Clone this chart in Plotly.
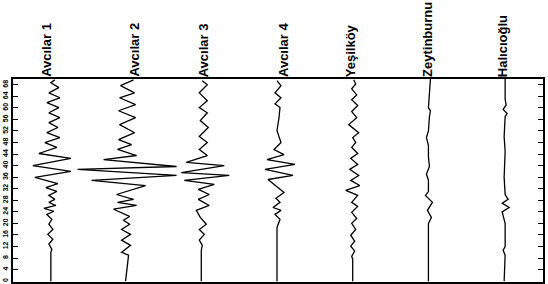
import plotly.graph_objects as go

stations = ["Avcılar 1", "Avcılar 2", "Avcılar 3", "Avcılar 4", "Yeşilköy", "Zeytinburnu", "Halıcıoğlu"]
y_ticks = list(range(0, 69, 4))

# depth (m) and wiggle amplitude for each station
avc1_depth = [0, 10.0, 11.0, 12.8, 14.5, 16.2, 17.9, 19.7, 21.4, 23.1, 24.2, 25.2, 26.2, 27.3, 28.3, 29.7, 31.1, 32.4, 33.8,
              35.9, 38.0, 40.0, 42.5, 44.2, 46.3, 48.0, 49.7, 51.4, 53.2, 54.9, 56.6, 58.3, 60.1, 61.8, 63.5, 65.2, 67.0, 68.7, 69.7]
avc1_amp = [0, 0, 1, -2, 2, -3, 2, -2, 1, -4, 3, -7, 5, -2, 4, -2, 6, -5, 7,
            -16, 20, -18, 20, -12, 6, -6, 9, -4, 7, -2, 9, -2, 8, -4, 9, -2, 8, 0, 4]

avc2_depth = [0, 9.0, 10.0, 12.4, 14.2, 16.2, 17.9, 19.7, 21.1, 22.4, 24.9, 26.2, 27.3, 28.3, 30.0, 33.1, 34.9, 36.6, 38.7,
              39.7, 42.1, 43.5, 45.6, 47.3, 49.0, 51.4, 54.2, 56.6, 59.0, 61.1, 63.5, 65.2, 67.7, 69.7]
avc2_amp = [-1, 2, -5, 4, -5, 4, -5, 3, -3, 3, -13, 10, -9, 7, -10, 19, -35, 50, -49,
            50, -23, 10, -9, 5, -8, 8, -7, 9, -8, 9, -7, 8, -6, 7]

avc3_depth = [0, 10.7, 12.4, 14.2, 16.2, 17.9, 19.7, 22.1, 24.5, 26.2, 28.3, 30.0, 31.8, 33.5, 34.9, 36.6, 37.6, 40.0,
              41.1, 43.5, 45.6, 48.0, 50.1, 53.2, 55.6, 58.3, 60.1, 62.5, 65.2, 68.0, 69.4]
avc3_amp = [-1, -1, 0, -3, 2, -3, 4, -2, -6, 7, -4, 7, -4, 12, -18, 27, -21, 22,
            -16, 5, -3, 5, -3, 6, -2, 5, -3, 5, -3, 5, 0]

avc4_depth = [0, 18.6, 21.4, 23.1, 24.5, 25.5, 27.3, 28.7, 30.7, 35.2, 36.6, 38.7, 40.4, 42.1, 43.8, 45.6, 48.0, 52.1,
              56.6, 60.1, 61.4, 63.5, 65.2, 67.7, 69.4]
avc4_amp = [-1, -1, 2, -3, 3, -5, 2, -2, 6, -10, 15, -13, 17, -11, 6, -4, 3, -1,
            1, 2, -3, 3, -3, 3, -1]

yes_depth = [0, 7.6, 8.6, 10.4, 12.1, 13.8, 15.9, 17.9, 20.0, 21.7, 23.8, 25.9, 27.3, 29.7, 31.4, 33.1, 34.9, 36.6, 38.7,
             40.4, 42.5, 44.2, 46.3, 48.0, 49.7, 51.4, 54.2, 56.6, 58.7, 60.8, 62.8, 64.5, 66.6, 68.3, 69.7]
yes_amp = [-1, -1, -2, 1, -3, 1, -3, 2, -2, 3, -2, 4, -2, 4, -8, 6, -3, 5, -4,
           4, -3, 4, -2, 2, -1, 5, -5, 3, -2, 4, -2, 3, -2, 2, 0]

zey_depth = [0, 10, 20, 22, 24.5, 27.3, 29.7, 31, 35, 37, 39.7, 43, 47, 49.7, 52, 57, 59, 60, 65, 70]
zey_amp = [-1, -1, -1, 2, -2, 3, -4, -1, -1, -3, 0, -1, -1, -3, -1, 0, 1, -1, 0, 1]

hal_depth = [0, 9, 10.7, 12, 20, 24, 25.5, 27, 28.3, 30, 36, 45, 50, 57, 58, 59.5, 61, 63, 70]
hal_amp = [-1, 0, -2, 0, 0, -3, 4, -3, 3, 0, -1, 0, -1, 0, 2, -2, 1, 0, 0]

depths = [avc1_depth, avc2_depth, avc3_depth, avc4_depth, yes_depth, zey_depth, hal_depth]
amps = [avc1_amp, avc2_amp, avc3_amp, avc4_amp, yes_amp, zey_amp, hal_amp]

SCALE = 1 / 75.7  # amplitude (px) to track units
label_shift = [-5, 7, 1, 5, -3, -2, -3]

fig = go.Figure()
for i, (d, a) in enumerate(zip(depths, amps)):
    fig.add_trace(go.Scatter(
        x=[i + 1 + v * SCALE for v in a], y=d, mode="lines",
        line=dict(color="black", width=1.3), showlegend=False, hoverinfo="skip"))

for i, name in enumerate(stations):
    fig.add_annotation(x=i + 1, y=1, xref="x", yref="paper", text="<b>" + name + "</b>", textangle=-90,
                       showarrow=False, xanchor="center", yanchor="bottom", yshift=0,
                       xshift=label_shift[i],
                       font=dict(family="Liberation Sans", size=13, color="black"))

fig.update_layout(
    width=548, height=284, margin=dict(l=13, r=5, t=79, b=2, autoexpand=False),
    paper_bgcolor="white", plot_bgcolor="white",
    xaxis=dict(range=[0.5, 7.5], showgrid=False, zeroline=False, showticklabels=False, ticks="",
               showline=True, linecolor="black", linewidth=1.5, mirror=True, automargin=False),
    yaxis=dict(range=[-0.3, 70], showgrid=False, zeroline=False, tickvals=y_ticks,
               ticktext=["<b>%d</b>" % t for t in y_ticks], ticks="inside", ticklen=5, tickcolor="black",
               tickwidth=1, tickangle=-90, automargin=False,
               tickfont=dict(family="Liberation Sans Narrow, Liberation Sans", size=7, color="black"),
               showline=True, linecolor="black", linewidth=1.5, mirror="ticks"),
)
fig.write_html("out.html", config={"displayModeBar": False},
               post_script="document.body.style.margin='0';document.body.style.overflow='hidden';")
